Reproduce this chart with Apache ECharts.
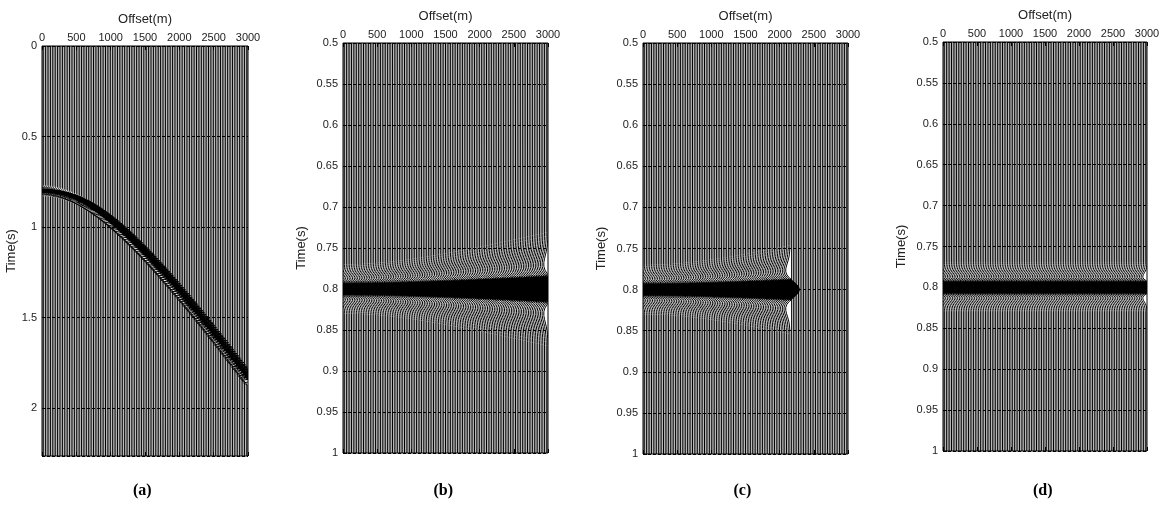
<!DOCTYPE html>
<html><head><meta charset="utf-8">
<script src="https://cdn.jsdelivr.net/npm/echarts@6/dist/echarts.min.js"></script>
<style>html,body{margin:0;padding:0;background:#fff}#c{width:1165px;height:507px}</style>
</head><body><div id="c"></div>
<script>
// Trace offsets (m)
var offsets = [0,25,50,75,100,125,150,175,200,225,250,275,300,325,350,375,400,425,450,475,
  500,525,550,575,600,625,650,675,700,725,750,775,800,825,850,875,900,925,950,975,
  1000,1025,1050,1075,1100,1125,1150,1175,1200,1225,1250,1275,1300,1325,1350,1375,1400,1425,1450,1475,
  1500,1525,1550,1575,1600,1625,1650,1675,1700,1725,1750,1775,1800,1825,1850,1875,1900,1925,1950,1975,
  2000,2025,2050,2075,2100,2125,2150,2175,2200,2225,2250,2275,2300,2325,2350,2375,2400,2425,2450,2475,
  2500,2525,2550,2575,2600,2625,2650,2675,2700,2725,2750,2775,2800,2825,2850,2875,2900,2925,2950,2975,3000];
// Reflection time per trace in panel (a) (s)
var timesA = [0.800,0.800,0.800,0.801,0.802,0.803,0.804,0.806,0.808,0.810,0.812,0.814,0.817,0.820,0.823,0.827,0.830,0.834,0.838,0.842,
  0.847,0.852,0.856,0.861,0.867,0.872,0.878,0.884,0.890,0.896,0.902,0.909,0.915,0.922,0.929,0.936,0.943,0.951,0.958,0.966,
  0.974,0.982,0.990,0.998,1.007,1.015,1.024,1.033,1.041,1.050,1.059,1.069,1.078,1.087,1.097,1.106,1.116,1.125,1.135,1.145,
  1.155,1.165,1.175,1.186,1.196,1.206,1.217,1.227,1.238,1.248,1.259,1.270,1.281,1.292,1.302,1.313,1.324,1.336,1.347,1.358,
  1.369,1.380,1.392,1.403,1.415,1.426,1.438,1.449,1.461,1.472,1.484,1.496,1.508,1.519,1.531,1.543,1.555,1.567,1.579,1.591,
  1.603,1.615,1.627,1.639,1.651,1.663,1.676,1.688,1.700,1.712,1.725,1.737,1.749,1.762,1.774,1.786,1.799,1.811,1.824,1.836,1.849];
// Flattened event time in panels (b)-(d) (s)
var eventTimeNMO = 0.8;
// Last live offset in panel (c) (m)
var muteOffsetC = 2150;
// Wavelet shape (lag in s, relative amplitude)
var waveletLags = [-0.030,-0.028,-0.026,-0.024,-0.022,-0.020,-0.018,-0.016,-0.014,-0.012,-0.010,-0.008,-0.006,-0.004,-0.002,0,
  0.002,0.004,0.006,0.008,0.010,0.012,0.014,0.016,0.018,0.020,0.022,0.024,0.026,0.028,0.030];
var waveletAmp = [-0.005,-0.012,-0.027,-0.055,-0.103,-0.175,-0.268,-0.365,-0.435,-0.434,-0.319,-0.078,0.262,0.621,0.897,1.0,
  0.897,0.621,0.262,-0.078,-0.319,-0.434,-0.435,-0.365,-0.268,-0.175,-0.103,-0.055,-0.027,-0.012,-0.005];
// Axis ranges
var timeRangeA = [0, 2.265];
var timeRangeBCD = [0.5, 1];
var offsetRange = [0, 3000];
var panelLabels = ['(a)','(b)','(c)','(d)'];

var AMP = 140; // wiggle scale in offset units

function buildData(p) {
  return offsets.map(function (off, i) {
    if (p === 0) return [off, timesA[i], 1, AMP];
    if (p === 1) return [off, eventTimeNMO, timesA[i] / eventTimeNMO, AMP];
    if (p === 2) return [off, eventTimeNMO, timesA[i] / eventTimeNMO, off <= muteOffsetC ? AMP : 0];
    return [off, eventTimeNMO, 1, AMP];
  });
}

var grids = [
  {left: 42, top: 46, width: 206, height: 410},
  {left: 343, top: 43, width: 205, height: 410},
  {left: 643, top: 43, width: 205, height: 411},
  {left: 943, top: 42, width: 204, height: 409}
];
var yRanges = [timeRangeA, timeRangeBCD, timeRangeBCD, timeRangeBCD];
var yIntervals = [0.5, 0.05, 0.05, 0.05];
var yNameGaps = [24, 35, 35, 35];
var FONT = 'Liberation Sans, Arial, sans-serif';
function plain(v) { return String(v); }

function makeRender(p) {
  var tr = yRanges[p];
  return function (params, api) {
    var off = api.value(0), t0 = api.value(1), s = api.value(2), a = api.value(3);
    var line = [api.coord([off, tr[0]])];
    var fill = [];
    if (a > 0) {
      for (var k = 0; k < waveletLags.length; k++) {
        var t = t0 + waveletLags[k] * s;
        line.push(api.coord([off + a * waveletAmp[k], t]));
        fill.push(api.coord([off + a * Math.max(waveletAmp[k], 0), t]));
      }
    }
    line.push(api.coord([off, tr[1]]));
    var children = [];
    if (fill.length) children.push({type: 'polygon', shape: {points: fill}, style: {fill: '#000', stroke: null}});
    children.push({type: 'polyline', shape: {points: line}, style: {stroke: '#000', lineWidth: 1, fill: null}});
    return {type: 'group', children: children};
  };
}

var option = {
  backgroundColor: '#fff',
  animation: false,
  grid: grids.map(function (g) { return Object.assign({show: true, borderColor: '#000', borderWidth: 1, backgroundColor: '#fff', containLabel: false}, g); }),
  xAxis: [],
  yAxis: [],
  series: [],
  graphic: []
};

for (var p = 0; p < 4; p++) {
  option.xAxis.push({
    gridIndex: p, type: 'value', position: 'top', min: offsetRange[0], max: offsetRange[1], interval: 500,
    name: 'Offset(m)', nameLocation: 'middle', nameGap: 20,
    nameTextStyle: {fontFamily: FONT, fontSize: 13, color: '#222'},
    axisLine: {show: false},
    axisTick: {show: true, inside: true, length: 4, lineStyle: {color: '#000'}},
    axisLabel: {fontFamily: FONT, fontSize: 11, color: '#222', margin: 3, formatter: plain},
    splitLine: {show: false}
  });
  option.xAxis.push({
    gridIndex: p, type: 'value', position: 'bottom', min: offsetRange[0], max: offsetRange[1], interval: 500,
    axisLine: {show: false},
    axisTick: {show: true, inside: true, length: 4, lineStyle: {color: '#000'}},
    axisLabel: {show: false}, splitLine: {show: false}
  });
  option.yAxis.push({
    gridIndex: p, type: 'value', inverse: true, min: yRanges[p][0], max: yRanges[p][1], interval: yIntervals[p],
    name: 'Time(s)', nameLocation: 'middle', nameGap: yNameGaps[p],
    nameTextStyle: {fontFamily: FONT, fontSize: 13, color: '#222'},
    axisLine: {show: false},
    axisTick: {show: true, inside: true, length: 4, lineStyle: {color: '#000'}},
    axisLabel: {fontFamily: FONT, fontSize: 11, color: '#222', margin: 5, showMaxLabel: p !== 0, formatter: plain},
    splitLine: {show: true, lineStyle: {color: '#000', width: 1, type: [3, 2]}}
  });
  option.series.push({
    type: 'custom', xAxisIndex: 2 * p, yAxisIndex: p, clip: true,
    renderItem: makeRender(p), data: buildData(p), encode: {x: 0, y: 1}, silent: true
  });
  var g = grids[p];
  option.graphic.push({
    type: 'text', left: g.left + g.width / 2 - 12, top: 483,
    style: {text: panelLabels[p], fontFamily: 'Liberation Serif, Times New Roman, serif', fontWeight: 'bold', fontSize: 16, fill: '#000'}
  });
}

var chart = echarts.init(document.getElementById('c'), null, {renderer: 'canvas'});
chart.setOption(option);
</script>
</body></html>
